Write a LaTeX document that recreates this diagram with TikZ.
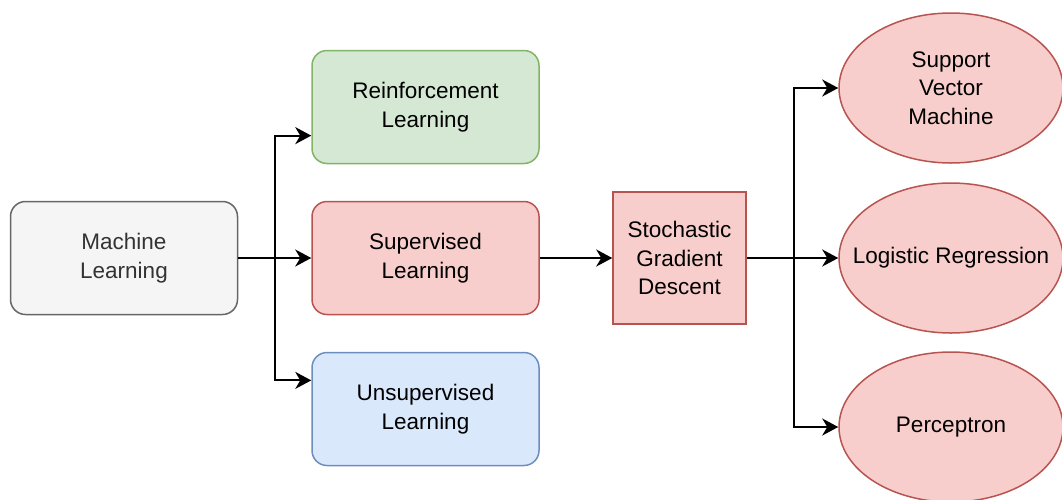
\documentclass[tikz,border=0pt]{standalone}
\usepackage{fontspec}
\setmainfont{Liberation Sans}
\usetikzlibrary{arrows.meta, calc, shapes.geometric}
\definecolor{mlfill}{HTML}{F5F5F5}
\definecolor{mldraw}{HTML}{666666}
\definecolor{mltext}{HTML}{333333}
\definecolor{grfill}{HTML}{D5E8D4}
\definecolor{grdraw}{HTML}{82B366}
\definecolor{rdfill}{HTML}{F8CECC}
\definecolor{rddraw}{HTML}{B85450}
\definecolor{blfill}{HTML}{DAE8FC}
\definecolor{bldraw}{HTML}{6C8EBF}
\begin{document}
\begin{tikzpicture}[x=1pt, y=-1pt,
  every node/.style={font=\fontsize{22.5}{28.5}\selectfont, align=center, inner sep=0pt},
  box/.style={draw, rounded corners=15pt, line width=1.5pt, minimum width=227pt, minimum height=113pt},
  oval/.style={ellipse, draw=rddraw, fill=rdfill, line width=1.5pt, minimum width=224pt, minimum height=150pt},
  link/.style={-{Stealth[length=16pt, width=17pt, inset=5pt]}, line width=2pt}]
\useasboundingbox (0,0) rectangle (1062,499);
\node[box, draw=mldraw, fill=mlfill, text=mltext] (ml) at (124,258) {Machine\\Learning};
\node[box, draw=grdraw, fill=grfill] (rl) at (425.5,107) {Reinforcement\\Learning};
\node[box, draw=rddraw, fill=rdfill] (sl) at (425.5,258) {Supervised\\Learning};
\node[box, draw=bldraw, fill=blfill] (us) at (425.5,409) {Unsupervised\\Learning};
\node[draw=rddraw, fill=rdfill, line width=1.5pt, minimum width=133pt, minimum height=132pt] (sgd) at (679.5,258) {Stochastic\\Gradient\\Descent};
\node[oval] (svm) at (951,88) {Support\\Vector\\Machine};
\node[oval] (lr) at (951,258) {\makebox[120pt]{Logistic Regression}};
\node[oval] (pc) at (951,427) {Perceptron};
% left fan
\draw[link] (ml.east) -- ++(37,0) |- ($(rl.south west)!0.25!(rl.north west)$);
\draw[link] (ml.east) -- (sl.west);
\draw[link] (ml.east) -- ++(37,0) |- ($(us.north west)!0.25!(us.south west)$);
\draw[link] (sl.east) -- (sgd.west);
% right fan
\draw[link] (sgd.east) -- ++(47,0) |- (svm.west);
\draw[link] (sgd.east) -- (lr.west);
\draw[link] (sgd.east) -- ++(47,0) |- (pc.west);
\end{tikzpicture}
\end{document}
